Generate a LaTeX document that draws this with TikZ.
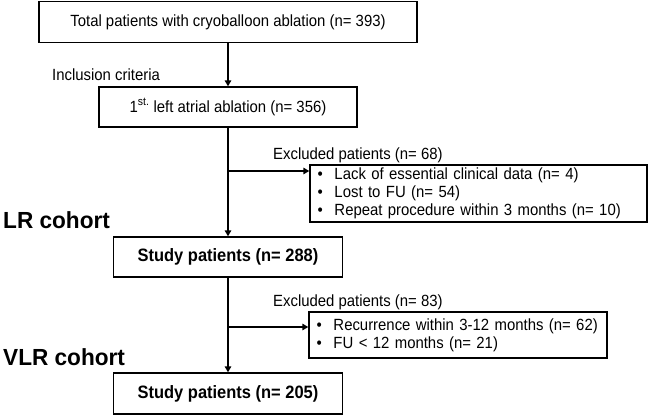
\documentclass[tikz,border=0pt]{standalone}
\usepackage{fontspec}
\setmainfont{Liberation Sans}[FakeStretch=0.92]
\newfontfamily\cohortfont{Liberation Sans}[FakeStretch=0.97]
\usetikzlibrary{arrows.meta}
\tikzset{
  mainbox/.style={draw, line width=1.4pt, inner sep=0pt, font=\fontsize{16.2}{18}\selectfont},
  boldbox/.style={mainbox, font=\fontsize{17.9}{19}\selectfont\bfseries},
  exbox/.style={draw, line width=1.4pt, inner sep=0pt, align=left, font=\fontsize{16.2}{18.3}\selectfont},
  lbl/.style={anchor=west, inner sep=0pt, font=\fontsize{16.2}{18}\selectfont},
  cohort/.style={anchor=west, inner sep=0pt, font=\fontsize{23.3}{26}\cohortfont\bfseries},
  arr/.style={line width=2.4pt, -{Triangle[length=6pt,width=6.5pt]}},
}
\newcommand{\bul}{\makebox[17pt][l]{\textbullet}}
\begin{document}
\begin{tikzpicture}[x=1pt,y=-1pt]
\useasboundingbox (0,0) rectangle (649,416);
\node[mainbox, minimum width=378pt, minimum height=41pt] (b1) at (228,22) {Total patients with cryoballoon ablation (n= 393)};
\node[mainbox, minimum width=258pt, minimum height=40pt] (b2) at (228,107) {1\textsuperscript{st.} left atrial ablation (n= 356)};
\node[boldbox, minimum width=229pt, minimum height=40pt] (b3) at (228,257) {Study patients (n= 288)};
\node[boldbox, minimum width=229pt, minimum height=41pt] (b4) at (228,393.5) {Study patients (n= 205)};
\node[exbox, minimum width=337pt, minimum height=57pt, text width=322pt] (e1) at (478.5,193.5)
  {\bul Lack of essential clinical data (n= 4)\\ \bul Lost to FU (n= 54)\\ \bul Repeat procedure within 3 months (n= 10)};
\node[exbox, minimum width=298pt, minimum height=46pt, text width=283pt] (e2) at (458,335)
  {\bul Recurrence within 3-12 months (n= 62)\\ \bul FU < 12 months (n= 21)};
\node[lbl] (inc) at (52,75) {Inclusion criteria};
\node[lbl] (x1) at (273,155) {Excluded patients (n= 68)};
\node[lbl] (x2) at (273,302) {Excluded patients (n= 83)};
\node[cohort] (lr) at (3,220) {LR cohort};
\node[cohort] (vlr) at (3,357) {VLR cohort};
\coordinate (j1) at (228,171);
\coordinate (j2) at (228,327);
\draw[arr] (b1) -- (b2);
\draw[arr] (b2) -- (b3);
\draw[arr] (b3) -- (b4);
\draw[arr] (j1) -- (j1 -| e1.west);
\draw[arr] (j2) -- (j2 -| e2.west);
\end{tikzpicture}
\end{document}
